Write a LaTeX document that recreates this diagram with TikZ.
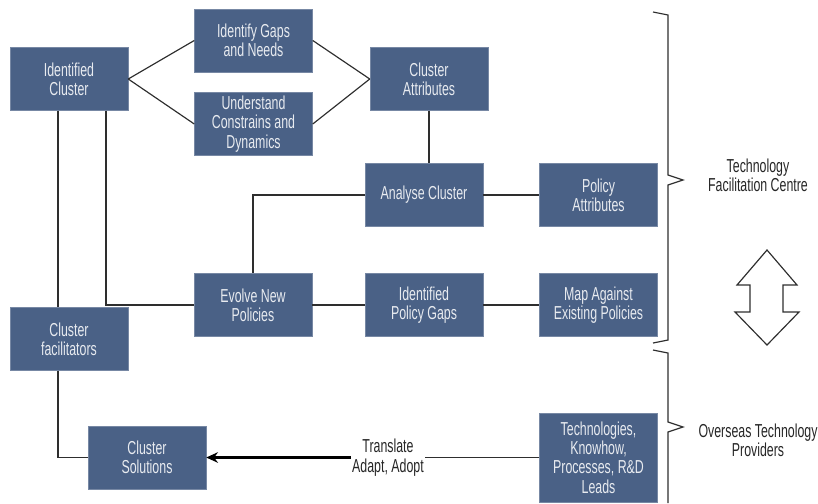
\documentclass[tikz,border=0pt]{standalone}
\usepackage{fontspec}
\setmainfont{Liberation Sans}[FakeStretch=0.66]
\usetikzlibrary{arrows.meta}
\definecolor{boxblue}{HTML}{4A6186}
\definecolor{boxtext}{HTML}{E8EBF0}
\definecolor{linegrey}{HTML}{2E2E2E}

\begin{document}
\begin{tikzpicture}[x=0.03cm,y=-0.03cm,
        box/.style={draw=boxblue!75!white, fill=boxblue, text=boxtext, align=center,
          minimum width=3.54cm, minimum height=1.89cm, inner sep=1pt,
          font=\fontsize{16}{16.5}\selectfont},
        link/.style={draw=linegrey, line width=1pt},
        sidetext/.style={align=center, text=black!85, inner sep=1pt,
          font=\fontsize{16}{16.5}\selectfont}]
        \useasboundingbox (0,0) rectangle (818,503);
        % boxes
        \node[box] (idc) at (69,79) {Identified\\Cluster};
        \node[box] (gap) at (253.5,40.5) {Identify Gaps\\and Needs};
        \node[box] (con) at (253.5,124) {Understand\\Constrains and\\Dynamics};
        \node[box] (att) at (429,79) {Cluster\\Attributes};
        \node[box] (ana) at (424,195) {Analyse Cluster};
        \node[box] (pat) at (598.5,195) {Policy\\Attributes};
        \node[box] (evo) at (253,305) {Evolve New\\Policies};
        \node[box] (ipg) at (424,305) {Identified\\Policy Gaps};
        \node[box] (map) at (598.5,305) {Map Against\\Existing Policies};
        \node[box] (fac) at (69,339) {Cluster\\facilitators};
        \node[box] (sol) at (147,457.5) {Cluster\\Solutions};
        \node[box, minimum height=2.67cm] (tech) at (598.5,457.5) {Technologies,\\Knowhow,\\Processes, R\&D\\Leads};
        % side labels
        \node[sidetext] (tr) at (388,457.5) {Translate\\Adapt, Adopt};
        \node[sidetext] (tfc) at (758,175) {Technology\\Facilitation Centre};
        \node[sidetext] (otp) at (758,440) {Overseas Technology\\Providers};
        % connectors
        \draw[link] (idc.east) -- (gap.west);
        \draw[link] (idc.east) -- (con.west);
        \draw[link] (gap.east) -- (att.west);
        \draw[link] (con.east) -- (att.west);
        \draw[link] (att.south) -- (att.south |- ana.north);
        \draw[link] (ana.west) -| (evo.north);
        \draw[link] (ana.east) -- (pat.west);
        \draw[link] (evo.east) -- (ipg.west);
        \draw[link] (ipg.east) -- (map.west);
        \draw[link] ([xshift=-0.33cm]idc.south) -- ([xshift=-0.33cm]fac.north);
        \draw[link] ([xshift=1.11cm]idc.south) |- (evo.west);
        \draw[link] ([xshift=-0.33cm]fac.south) |- (sol.west);
        \draw[link] (tech.west) -- (tr.east);
        \draw[line width=2pt, -{Stealth[length=10pt, width=9pt]}] (tr.west) -- (sol.east);
        % braces
        \draw[link] (653,12) -- (668,15) -- (668,175) -- (683,180) -- (668,185) -- (668,340) -- (653,343);
        \draw[link] (653,350) -- (668,353) -- (668,422) -- (683,427) -- (668,432) -- (668,503);
        % double arrow
        \draw[linegrey, line width=1pt] (767,250) -- (797,285) -- (783,285) -- (783,312) -- (799,312)
          -- (767,345) -- (735,312) -- (750,312) -- (750,285) -- (737,285) -- cycle;
\end{tikzpicture}
\end{document}
